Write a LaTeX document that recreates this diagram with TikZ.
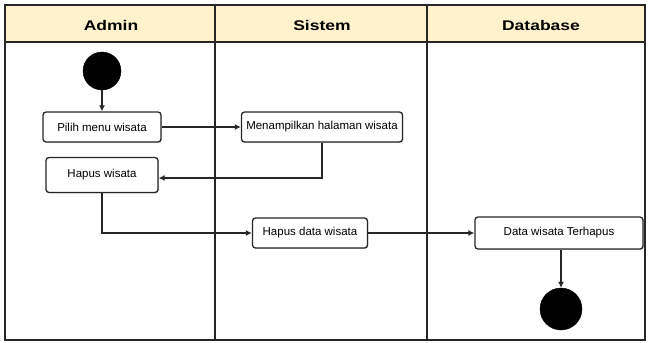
\documentclass[tikz,border=0pt]{standalone}
\usepackage{fontspec}
\setmainfont{Liberation Sans}
\usetikzlibrary{arrows.meta,shadows}
\definecolor{lanehead}{HTML}{FFF2CC}
\tikzset{
  act/.style={draw=black!85, line width=1.3pt, rounded corners=3pt, fill=white,
    minimum height=30pt, inner sep=2pt, font=\fontsize{11.5}{13}\selectfont,
    drop shadow={shadow xshift=0.9pt, shadow yshift=-0.9pt, fill=black!35}},
  dot/.style={circle, fill=black, draw=black, minimum size=#1, inner sep=0pt},
  flow/.style={draw=black!85, line width=1.3pt, -{Latex[length=6pt,width=6pt]}},
  lanetitle/.style={font=\bfseries\fontsize{14}{16}\selectfont, xscale=1.25},
  lane/.style={line width=1.5pt, black!85},
}
\begin{document}
\begin{tikzpicture}[x=1pt,y=-1pt]
\useasboundingbox (0,0) rectangle (649,343);
% swimlane frame
\fill[lanehead] (5,5) rectangle (645,42);
\draw[lane] (5,5) rectangle (645,340);
\draw[lane] (5,42) -- (645,42);
\draw[lane] (215,5) -- (215,340);
\draw[lane] (427,5) -- (427,340);
\node[lanetitle] (hAdmin) at (111,25) {Admin};
\node[lanetitle] (hSistem) at (322,25) {Sistem};
\node[lanetitle] (hDb) at (541,25) {Database};
% activities
\node[dot=38pt] (start) at (102,71) {};
\node[act, minimum width=118pt] (pilih) at (102,127) {Pilih menu wisata};
\node[act, minimum width=161pt] (tampil) at (322,127) {Menampilkan halaman wisata};
\node[act, minimum width=112pt, minimum height=35pt] (hapus) at (102,175) {Hapus wisata};
\node[act, minimum width=115pt] (hapusdata) at (310,233) {Hapus data wisata};
\node[act, minimum width=168pt, minimum height=32pt] (terhapus) at (559,233) {Data wisata Terhapus};
\node[dot=42pt] (end) at (561,309) {};
% control flow
\draw[flow] (start) -- (pilih);
\draw[flow] (pilih) -- (tampil);
\draw[flow] (tampil.south) |- (hapus.east |- 0,178);
\draw[flow] (hapus.south) |- (hapusdata.west);
\draw[flow] (hapusdata) -- (terhapus);
\draw[flow] (terhapus.south -| end) -- (end);
\end{tikzpicture}
\end{document}
